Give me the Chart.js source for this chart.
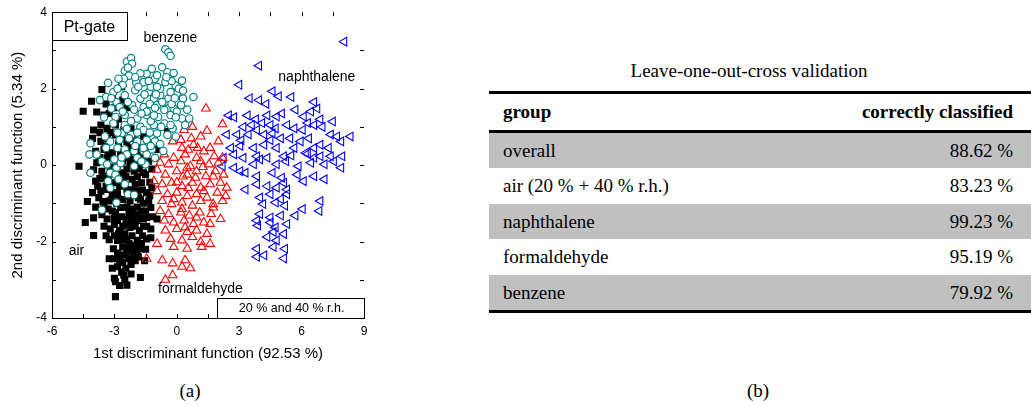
<!DOCTYPE html>
<html>
<head>
<meta charset="utf-8">
<script src="https://cdn.jsdelivr.net/npm/chart.js@4"></script>
<style>
body { margin: 0; background: #fff; width: 1031px; height: 406px; position: relative; overflow: hidden; }
#plot { position: absolute; left: 0; top: 0; }
.cap { position: absolute; font-family: "Liberation Serif", serif; font-size: 19px; color: #000; transform: translateX(-50%); }
#ttl { position: absolute; left: 749px; top: 60px; transform: translateX(-50%); font-family: "Liberation Serif", serif; font-size: 19px; white-space: nowrap; }
#tbl { position: absolute; left: 489px; top: 91px; width: 542px; font-family: "Liberation Serif", serif; font-size: 19px; }
.rule { height: 3px; background: #000; }
.row { display: flex; justify-content: space-between; align-items: center; padding: 0 18px 0 14px; }
.hd { height: 36px; font-weight: bold; }
.gray { background: #c0c0c0; }
</style>
</head>
<body>
<canvas id="plot" width="380" height="370"></canvas>
<div class="cap" style="left:190px; top:380px;">(a)</div>
<div class="cap" style="left:758px; top:380px;">(b)</div>
<div id="ttl">Leave-one-out-cross validation</div>
<div id="tbl"></div>
<script>
// scatter data (1st / 2nd discriminant function)
const airPts = [
  [-3.6,1.98],[-2.65,2.05],[-4.1,1.67],[-4.5,1.41],[-4.7,-0.03],
  [-3.85,1.39],[-3.5,1.31],[-3.25,1.35],
  [-3.65,1.05],[-4.0,0.92],[-3.35,0.96],[-2.95,1.05],[-2.55,0.92],
  [-4.05,0.7],[-3.65,0.62],[-3.35,0.7],[-2.95,0.79],[-2.4,0.62],[-1.9,0.45],
  [-3.9,0.36],[-3.5,0.41],[-3.1,0.32],[-2.7,0.32],[-1.75,0.32],[-1.25,0.53],[-0.95,0.41],
  [-3.85,0.06],[-3.35,0.19],[-2.6,0.1],[-2.25,0.06],[-1.85,0.02],[-1.35,0.1],[-0.45,0.88],
  [-4.0,-0.12],[-3.6,-0.16],[-3.1,-0.12],[-2.55,-0.2],[-2.05,-0.16],[-1.6,-0.2],
  [-3.9,-0.42],[-3.5,-0.33],[-3.05,-0.46],[-2.55,-0.42],[-2.15,-0.37],[-1.7,-0.46],
  [-4.05,-0.72],[-3.65,-0.68],[-3.35,-0.64],[-2.85,-0.72],[-2.4,-0.64],[-1.9,-0.68],[-1.45,-0.72],
  [-4.3,-0.95],[-3.75,-0.85],[-3.25,-0.94],[-2.8,-0.89],[-2.25,-0.94],[-1.75,-0.89],[-1.35,-0.94],
  [-3.5,-1.11],[-3.1,-1.2],[-2.7,-1.11],[-2.15,-1.15],[-1.7,-1.2],[-1.25,-1.11],
  [-4.0,-1.38],[-4.4,-1.5],[-3.35,-1.41],[-2.85,-1.45],[-2.4,-1.41],[-1.9,-1.45],[-1.45,-1.37],[-0.95,-1.41],
  [-3.2,-1.67],[-2.75,-1.71],[-2.25,-1.63],[-1.8,-1.71],[-1.25,-1.67],
  [-4.0,-1.84],[-3.25,-1.95],[-2.85,-1.97],[-2.4,-1.93],[-1.9,-1.97],[-1.45,-1.93],
  [-3.05,-2.19],[-2.6,-2.14],[-2.15,-2.23],[-1.7,-2.19],
  [-3.25,-2.45],[-2.75,-2.49],[-2.3,-2.45],[-1.85,-2.4],
  [-2.85,-2.66],[-2.45,-2.7],[-3.0,-2.96],[-2.95,-3.05],[-2.55,-2.88],[-2.4,-3.14],[-1.75,-2.94],[-2.95,-3.44],
  [-3.2,0.85],[-2.8,0.55],[-2.3,0.2],[-3.0,-0.1],[-2.0,-0.5],[-3.4,-0.55],[-2.6,-0.9],[-1.6,-1.0],
  [-2.1,-1.3],[-3.0,-1.4],[-2.5,-1.8],[-2.0,-2.1],[-2.7,-2.35],[-1.6,-1.6],[-2.2,-2.6],[-3.3,0.3],
  [-2.8,1.2],[-2.2,0.95],[-1.5,-0.25],[-1.2,-0.6],
  [-3.4,1.6],[-3.1,1.75],[-3.0,1.5],[-2.4,1.5],[-2.6,1.7],[-3.7,0.85],[-3.45,0.5],[-2.65,0.7],
  [-2.1,0.7],[-1.6,0.75],[-2.0,0.15],[-1.55,0.25],[-3.7,0.2],[-2.85,0.0],[-2.4,-0.1],[-1.2,-0.1],
  [-3.3,-0.3],[-2.75,-0.25],[-1.9,-0.3],[-1.3,-0.45],[-3.8,-0.55],[-3.1,-0.75],[-2.15,-0.65],[-1.65,-0.65],
  [-3.9,-1.1],[-3.3,-1.15],[-2.9,-1.0],[-2.4,-1.1],[-1.9,-1.1],[-1.5,-1.2],[-3.6,-1.3],[-2.65,-1.35],
  [-1.6,-1.4],[-1.15,-1.35],[-3.0,-1.55],[-2.45,-1.55],[-2.0,-1.6],[-1.45,-1.6],[-3.0,-1.85],[-2.6,-1.95],
  [-2.15,-1.85],[-1.65,-1.85],[-1.25,-1.9],[-2.85,-2.3],[-2.4,-2.2],[-1.9,-2.25],[-1.5,-2.2],[-2.6,-2.55],
  [-2.0,-2.5],[-2.65,-2.8],[-2.2,-2.85],[-2.75,-3.15],[-3.1,-2.7],[-3.5,-1.6],[-3.7,-0.35],
  [-3.2,-0.05],[-2.75,-0.55],[-2.3,-0.8],[-1.85,-0.85],[-2.95,-1.25],[-2.3,-1.25],[-1.85,-1.3],[-2.6,-1.6],
  [-2.2,-1.45],[-2.8,-1.8],[-2.3,-2.05],[-1.7,-2.05],[-2.45,-2.35],[-2.1,-2.35],[-3.0,-2.45],[-2.5,-3.0],
  [-3.15,-0.9],[-2.45,-0.3],[-1.8,-0.1],[-2.3,0.45],[-3.55,-0.95],[-3.45,0.1],[-1.3,-0.8],[-1.55,-2.5],[-3.4,-1.85]
];
const benzenePts = [
  [-0.55,3.03],[-0.4,2.95],[-0.3,2.86],
  [-2.4,2.71],[-2.2,2.8],[-2.15,2.65],[-2.5,2.47],[-2.3,2.34],[-2.55,2.26],
  [-3.3,2.15],[-2.8,2.26],[-2.6,2.09],[-1.95,2.17],
  [-1.45,2.39],[-1.2,2.52],[-0.7,2.56],[-0.45,2.43],[-0.15,2.41],[0.25,2.21],
  [-1.6,2.17],[-1.05,2.26],[-0.55,2.17],[-0.05,2.08],
  [-3.7,1.7],[-3.4,1.78],[-3.05,1.91],[-2.9,1.65],[-2.5,1.83],[-2.0,1.96],[-1.75,1.74],
  [-1.35,1.91],[-1.1,1.74],[-0.8,1.83],[-0.4,1.74],[0.0,1.87],[0.3,1.74],[0.8,1.78],
  [-3.15,1.48],[-2.75,1.52],[-2.15,1.57],[-1.6,1.52],[-0.95,1.57],[-0.45,1.48],[0.2,1.57],
  [-2.95,1.26],[-2.5,1.31],[-1.9,1.22],[-1.45,1.31],[-0.9,1.26],[-0.3,1.31],[0.25,1.22],[0.6,1.22],
  [-3.05,1.09],[-2.5,1.05],[-1.75,1.0],[-1.1,1.05],[-0.6,1.09],[-0.2,0.96],
  [-2.65,0.83],[-2.2,0.79],[-1.6,0.92],[-0.95,0.83],[-0.45,0.79],[-0.05,0.75],
  [-4.15,0.57],[-3.2,0.62],[-2.75,0.66],[-2.3,0.7],[-1.9,0.62],[-1.45,0.66],[-1.05,0.62],
  [-4.2,0.28],[-3.85,0.28],[-2.85,0.45],[-2.5,0.41],[-2.05,0.37],[-1.6,0.37],[-1.2,0.41],[-0.65,0.37],
  [-3.6,0.1],[-3.35,0.02],[-3.0,0.15],[-2.4,0.28],[-1.9,0.19],[-1.45,0.28],[-1.05,0.19],
  [-4.15,-0.2],[-3.2,-0.2],[-2.9,-0.07],[-2.05,-0.03],[-1.5,0.02],
  [-2.95,-0.25],[-3.3,-0.42],[-2.8,-0.37],
  [-2.35,-0.76],[-2.05,-0.78],[-2.9,-0.98],[-3.6,-1.17],
  [-1.45,1.4],[-0.8,2.0],[-0.3,1.91],[-0.6,1.44],[-0.15,1.48],
  [-1.25,2.05],[-0.95,2.35],[-0.25,2.2],[-1.75,2.4],[-2.05,1.45],[-1.3,1.6],[-0.7,1.65],[-3.5,1.25],
  [-1.25,1.15],[-2.2,1.15],[-1.6,0.45],[-2.4,0.95],[-0.3,1.05],[0.0,1.4],[-2.7,0.05],
  [-2.35,2.55],[-2.0,2.3],[-1.35,2.2],[-0.95,2.05],[-0.5,2.3],[0.1,2.0],[0.3,1.95],[-1.85,2.05],
  [-2.85,2.0],[-3.15,1.75],[-2.35,1.65],[-1.55,1.85],[-1.05,1.5],[-0.25,1.6],[0.5,1.45],[-2.6,1.4],
  [-1.7,1.35],[-1.1,1.3],[-0.05,1.25],[0.4,1.05],[-2.85,0.85],[-1.9,0.85],[-1.3,0.85],[-0.75,1.0],
  [-3.45,0.75],[-2.0,0.5],[-1.25,0.5],[-0.8,0.55],[-3.4,0.45],[-2.65,0.2],[-1.7,0.1],[-3.2,-0.6],
  [-2.5,-0.5],[-0.1,1.75],[-1.0,1.85]
];
const naphPts = [
  [8.05,3.23],[3.95,2.6],[3.0,2.1],[4.6,1.93],[4.9,1.8],[5.5,1.78],[3.5,1.75],[3.95,1.7],
  [4.3,1.6],[6.6,1.65],[5.7,1.45],[2.5,1.3],[2.75,1.25],[3.4,1.3],[3.8,1.2],
  [4.35,1.3],[4.8,1.27],[5.05,1.35],[6.1,1.27],[6.45,1.4],[6.75,1.48],
  [7.5,1.14],[8.35,0.75],[6.9,1.2],[6.6,1.05],[7.0,1.0],
  [2.4,0.8],[2.9,0.8],[3.45,0.8],[3.85,0.92],[4.2,0.8],[4.6,0.83],[4.75,0.96],
  [5.3,1.05],[5.65,0.96],[6.05,0.92],[5.45,0.7],[5.95,0.62],[6.35,0.7],
  [7.4,0.8],[7.7,0.75],[7.9,0.62],
  [2.6,0.45],[3.05,0.5],[3.7,0.45],[4.2,0.53],[4.8,0.45],
  [5.65,0.45],[6.6,0.45],[6.9,0.53],[7.3,0.45],
  [2.25,0.19],[2.75,0.28],[3.2,0.19],[3.85,0.23],[4.35,0.19],[5.15,0.23],
  [6.2,0.32],[6.6,0.19],[6.9,0.23],[7.4,0.23],[7.95,0.23],
  [2.2,-0.03],[2.75,-0.07],[3.05,-0.16],[3.7,0.02],[4.0,0.15],
  [4.8,0.02],[5.25,0.1],[5.85,-0.03],[6.45,0.06],[7.1,0.02],[7.55,0.1],[7.9,-0.07],
  [3.3,-0.2],[3.85,-0.29],[4.6,-0.2],[5.05,-0.33],[5.8,-0.25],
  [6.1,-0.42],[7.1,-0.37],[6.6,-0.29],
  [3.3,-0.64],[3.85,-0.5],[4.35,-0.55],[4.8,-0.59],[5.3,-0.64],[5.15,-0.46],
  [4.0,-0.85],[4.5,-0.76],[5.0,-0.89],[5.3,-0.76],
  [4.15,-1.02],[4.75,-0.98],[5.2,-1.06],
  [6.05,-1.15],[6.9,-0.94],[6.85,-1.2],
  [4.0,-1.28],[3.85,-1.45],[4.5,-1.37],[5.0,-1.32],[5.7,-1.32],
  [3.9,-1.58],[4.5,-1.5],[4.75,-1.63],[5.3,-1.54],[4.65,-1.75],
  [4.35,-1.88],[4.8,-1.97],[5.15,-1.8],
  [4.65,-2.14],[5.2,-2.19],
  [3.85,-2.19],[3.85,-2.4],[4.2,-2.36],[5.15,-2.44],
  [3.2,1.0],[3.6,1.05],[4.1,1.1],[4.5,1.05],[3.1,0.65],[4.5,0.65],[5.0,0.7],[6.3,1.1],[6.3,0.3],[5.5,0.25]
];
const formPts = [
  [1.4,1.48],[2.2,1.07],[0.75,1.0],[1.45,0.9],[0.35,0.92],
  [1.15,0.75],[0.7,0.7],[0.2,0.66],[2.0,0.62],[-0.2,0.62],
  [0.25,0.45],[0.8,0.53],[1.3,0.36],[1.6,0.45],
  [-0.6,0.28],[-0.15,0.19],[0.4,0.28],[0.95,0.19],[1.8,0.23],[2.2,0.19],
  [-0.8,0.06],[-0.4,0.02],[0.2,0.1],[0.65,-0.03],[1.15,0.1],[1.55,0.02],[2.0,0.06],
  [-0.95,-0.12],[-0.55,-0.25],[0.0,-0.16],[0.5,-0.25],[0.95,-0.16],[1.4,-0.29],[1.85,-0.16],[2.25,-0.25],
  [-1.1,-0.42],[-0.7,-0.5],[-0.25,-0.46],[0.25,-0.55],[0.75,-0.46],[1.15,-0.59],[1.6,-0.5],[2.1,-0.46],[2.4,-0.59],
  [-0.95,-0.68],[-0.45,-0.76],[0.0,-0.72],[0.5,-0.81],[0.95,-0.76],[1.45,-0.85],[1.95,-0.72],[2.35,-0.81],
  [-0.7,-0.94],[-0.25,-1.02],[0.25,-0.98],[0.75,-1.06],[1.15,-0.94],[1.75,-1.02],[2.2,-0.94],
  [-0.8,-1.2],[-0.4,-1.28],[0.2,-1.24],[0.6,-1.32],[1.1,-1.24],[1.65,-1.28],
  [-0.6,-1.45],[-0.15,-1.5],[0.35,-1.45],[0.8,-1.54],[1.3,-1.5],[2.1,-1.41],
  [-0.55,-1.71],[0.0,-1.67],[0.5,-1.75],[0.95,-1.71],[1.45,-1.8],
  [-0.3,-1.93],[0.25,-1.97],[0.75,-1.88],[1.15,-2.01],
  [-0.15,-2.14],[0.5,-2.19],[1.2,-2.14],[1.6,-2.06],
  [-0.95,-2.06],[-1.45,-2.45],[-0.7,-2.49],[-0.2,-2.57],[0.4,-2.49],[0.25,-2.66],[0.65,-2.7],
  [-0.55,-3.0],[-0.2,-2.88],
  [0.5,-0.07],[0.9,-0.33],[1.3,-0.68],[-0.15,-0.89],[0.25,-1.15],[0.95,-1.37],[0.4,-1.63],[1.6,-1.54],[1.75,-1.11],
  [0.55,0.4],[1.0,0.45],[0.3,-0.3],[1.25,-0.05],[0.0,-0.45],[1.75,-0.3],[0.55,-0.6]
];
// axis ticks and table values
const xTicks = [-6, -3, 0, 3, 6, 9];
const yTicks = [-4, -2, 0, 2, 4];
const groups = ["overall", "air (20 % + 40 % r.h.)", "naphthalene", "formaldehyde", "benzene"];
const correct = ["88.62 %", "83.23 %", "99.23 %", "95.19 %", "79.92 %"];

function toXY(arr) {
    return arr.map(p => ({ x: p[0], y: p[1] }));
}

// table
var tbl = document.getElementById("tbl");
var html = '<div class="rule"></div><div class="row hd"><span>group</span><span>correctly classified</span></div><div class="rule"></div>';
groups.forEach((g, i) => {
    html += '<div class="row' + (i % 2 == 0 ? ' gray' : '') + '" style="height:' + (i == 1 || i == 3 ? 36 : 35) + 'px"><span>' + g + '</span><span>' + correct[i] + '</span></div>';
});
html += '<div class="rule"></div>';
tbl.innerHTML = html;

const SANS = '"Liberation Sans", Arial, sans-serif';

// frame, inward ticks and in-plot labels
const framePlugin = {
    id: 'frame',
    afterDatasetsDraw(chart) {
        const ctx = chart.ctx;
        const a = chart.chartArea;
        const sx = chart.scales.x, sy = chart.scales.y;
        ctx.save();
        ctx.strokeStyle = '#000';
        ctx.lineWidth = 1;
        ctx.beginPath();
        for (let v = -4.5; v < 9; v += 1.5) {
            const px = Math.round(sx.getPixelForValue(v)) + 0.5;
            ctx.moveTo(px, a.bottom); ctx.lineTo(px, a.bottom - 4);
            ctx.moveTo(px, a.top); ctx.lineTo(px, a.top + 4);
        }
        for (let v = -3; v < 4; v += 1) {
            const py = Math.round(sy.getPixelForValue(v)) + 0.5;
            ctx.moveTo(a.left, py); ctx.lineTo(a.left + 4, py);
            ctx.moveTo(a.right, py); ctx.lineTo(a.right - 4, py);
        }
        ctx.stroke();

        // label boxes
        const bx = (x1, y1, x2, y2) => {
            const l = sx.getPixelForValue(x1), t = sy.getPixelForValue(y1);
            const r = sx.getPixelForValue(x2), b = sy.getPixelForValue(y2);
            ctx.fillStyle = '#fff';
            ctx.fillRect(l, t, r - l, b - t);
            ctx.strokeRect(Math.round(l) + 0.5, Math.round(t) + 0.5, Math.round(r - l), Math.round(b - t));
            return [(l + r) / 2, (t + b) / 2];
        };
        ctx.textBaseline = 'middle';
        let c = bx(-6, 4, -2.4, 3.27);
        ctx.fillStyle = '#000';
        ctx.textAlign = 'center';
        ctx.font = '16px ' + SANS;
        ctx.fillText('Pt-gate', c[0], c[1] + 1);
        c = bx(1.95, -3.47, 9, -4);
        ctx.fillStyle = '#000';
        ctx.font = '12.5px ' + SANS;
        ctx.fillText('20 % and 40 % r.h.', c[0] + 1, c[1] + 1);

        ctx.font = '14px ' + SANS;
        ctx.textAlign = 'left';
        ctx.fillText('benzene', sx.getPixelForValue(-1.6), sy.getPixelForValue(3.33));
        ctx.fillText('naphthalene', sx.getPixelForValue(4.88), sy.getPixelForValue(2.3));
        ctx.fillText('air', sx.getPixelForValue(-5.2), sy.getPixelForValue(-2.26));
        ctx.fillText('formaldehyde', sx.getPixelForValue(-0.9), sy.getPixelForValue(-3.25));
        ctx.restore();
    }
};

new Chart(document.getElementById('plot'), {
    type: 'scatter',
    data: {
        datasets: [
            { label: 'benzene', data: toXY(benzenePts), pointStyle: 'circle', pointRadius: 3.7, borderColor: '#008080', backgroundColor: '#fff', borderWidth: 1.2 },
            { label: 'formaldehyde', data: toXY(formPts), pointStyle: 'triangle', pointRadius: 5, borderColor: '#ff0000', backgroundColor: 'rgba(0,0,0,0)', borderWidth: 1.1 },
            { label: 'naphthalene', data: toXY(naphPts), pointStyle: 'triangle', pointRotation: -90, pointRadius: 5, borderColor: '#0000ff', backgroundColor: 'rgba(0,0,0,0)', borderWidth: 1.1 },
            { label: 'air', data: toXY(airPts), pointStyle: 'rect', pointRadius: 5, borderColor: '#000', backgroundColor: '#000', borderWidth: 0 }
        ]
    },
    options: {
        responsive: false,
        animation: false,
        events: [],
        layout: { padding: { top: 9, right: 16, left: 0, bottom: 0 } },
        plugins: { legend: { display: false }, tooltip: { enabled: false } },
        scales: {
            x: {
                type: 'linear', min: -6, max: 9,
                afterBuildTicks: s => { s.ticks = xTicks.map(v => ({ value: v })); },
                afterFit: s => { s.height = 52; },
                grid: { display: false, drawTicks: false },
                border: { display: true, color: '#000', width: 1 },
                ticks: { padding: 6, color: '#000', font: { size: 12, family: SANS } },
                title: { display: true, text: '1st discriminant function (92.53 %)', color: '#000', font: { size: 15, family: SANS }, padding: { top: 0, bottom: 7 } }
            },
            y: {
                type: 'linear', min: -4, max: 4,
                afterBuildTicks: s => { s.ticks = yTicks.map(v => ({ value: v })); },
                afterFit: s => { s.width = 52; },
                grid: { display: false, drawTicks: false },
                border: { display: true, color: '#000', width: 1 },
                ticks: { padding: 5, color: '#000', font: { size: 12, family: SANS } },
                title: { display: true, text: '2nd discriminant function (5.34 %)', color: '#000', font: { size: 15, family: SANS }, padding: { top: 9, bottom: 0 } }
            }
        }
    },
    plugins: [framePlugin]
});
</script>
</body>
</html>
